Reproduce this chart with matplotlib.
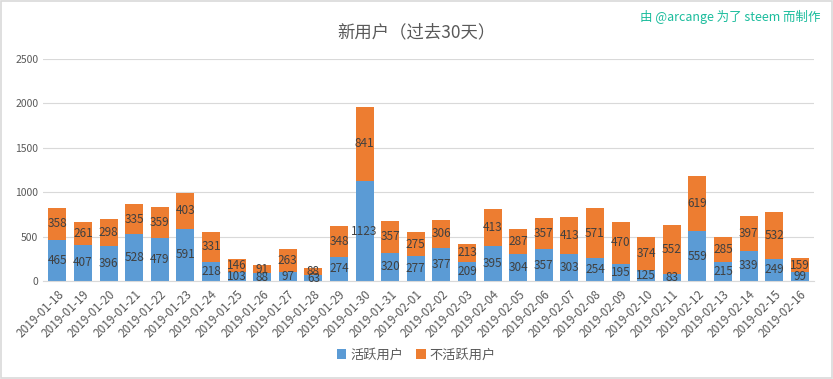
import numpy as np
import pandas as pd
import matplotlib
matplotlib.use("Agg")
import matplotlib.pyplot as plt
from matplotlib.patches import Rectangle

plt.rcParams['font.family'] = ['Noto Sans CJK SC', 'DejaVu Sans']

dates = [d.strftime("%Y-%m-%d") for d in pd.date_range("2019-01-18", "2019-02-16")]
active = [465, 407, 396, 528, 479, 591, 218, 103, 88, 97, 63, 274, 1123, 320, 277,
          377, 209, 395, 304, 357, 303, 254, 195, 125, 83, 559, 215, 339, 249, 99]
inactive = [358, 261, 298, 335, 359, 403, 331, 146, 91, 263, 88, 348, 841, 357, 275,
            306, 213, 413, 287, 357, 413, 571, 470, 374, 552, 619, 285, 397, 532, 159]

blue, orange = "#5B9BD5", "#ED7D31"

fig = plt.figure(figsize=(8.33, 3.79), dpi=100)
fig.patches.append(Rectangle((0.0015, 0.002), 0.997, 0.996, transform=fig.transFigure,
                             fill=False, edgecolor="#D9D9D9", linewidth=1.2))
ax = fig.add_axes([0.052, 0.2586, 0.925, 0.5857])

x = np.arange(len(dates))
b1 = ax.bar(x, active, width=0.7, color=blue, label="活跃用户")
b2 = ax.bar(x, inactive, width=0.7, bottom=active, color=orange, label="不活跃用户")

# value labels in the middle of each segment
for i in range(len(x)):
    ax.text(x[i], active[i] / 2, str(active[i]), ha="center", va="center",
            fontsize=8.5, color="#404040")
    ax.text(x[i], active[i] + inactive[i] / 2, str(inactive[i]), ha="center", va="center",
            fontsize=8.5, color="#404040")

ax.set_ylim(0, 2500)
ax.set_yticks(range(0, 2501, 500))
ax.set_xlim(-0.55, len(x) - 0.45)
ax.set_xticks(x)
ax.set_xticklabels(dates, rotation=45, ha="right", rotation_mode="anchor")
ax.tick_params(axis="y", length=0, labelsize=7.5, colors="#595959")
ax.tick_params(axis="x", length=0, labelsize=8.5, colors="#595959", pad=5)
ax.yaxis.grid(True, color="#D9D9D9", linewidth=0.8)
ax.set_axisbelow(True)
for s in ["top", "right", "left"]:
    ax.spines[s].set_visible(False)
ax.spines["bottom"].set_color("#D9D9D9")

fig.text(0.5, 0.915, "新用户（过去30天）", ha="center", va="center", fontsize=12.5, color="#595959")
fig.text(0.985, 0.955, "由 @arcange 为了 steem 而制作", ha="right", va="center",
         fontsize=9, color="#1ABC9C")

fig.legend(handles=[b1, b2], loc="center", bbox_to_anchor=(0.5, 0.063), ncol=2,
           frameon=False, fontsize=9.5, labelcolor="#595959", handlelength=0.7,
           handleheight=0.7, handletextpad=0.3, columnspacing=1.0)

fig.savefig("out.png", dpi=100)
